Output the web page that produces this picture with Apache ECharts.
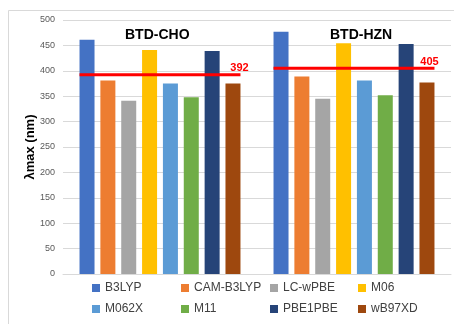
<!DOCTYPE html>
<html>
<head>
<meta charset="utf-8">
<script src="https://cdn.jsdelivr.net/npm/echarts@6/dist/echarts.min.js"></script>
<style>
  html, body { margin: 0; padding: 0; background: #fff; }
  #chart { width: 454px; height: 324px; }
</style>
</head>
<body>
<div id="chart"></div>
<script>
// Absorption maxima (nm) for two dyes computed with eight functionals
const categories = ['BTD-CHO', 'BTD-HZN'];
const functionals = ['B3LYP', 'CAM-B3LYP', 'LC-wPBE', 'M06', 'M062X', 'M11', 'PBE1PBE', 'wB97XD'];
const B3LYP = [461, 477];
const CAM_B3LYP = [381, 389];
const LC_wPBE = [341, 345];
const M06 = [441, 454];
const M062X = [375, 381];
const M11 = [348, 352];
const PBE1PBE = [439, 453];
const wB97XD = [375, 377];
// Experimental reference value for each dye
const experimental = [392, 405];
const yTicks = [0, 50, 100, 150, 200, 250, 300, 350, 400, 450, 500];

const seriesValues = [B3LYP, CAM_B3LYP, LC_wPBE, M06, M062X, M11, PBE1PBE, wB97XD];
const colors = ['#4472C4', '#ED7D31', '#A5A5A5', '#FFC000', '#5B9BD5', '#70AD47', '#264478', '#9E480E'];

const FONT = '"Liberation Sans", Arial, sans-serif';
const gridLeft = 63, gridRight = 3, gridTop = 20, gridBottom = 50;
const W = 454;
const plotWidth = W - gridLeft - gridRight;
const barWidth = 15;
const barGapRatio = 0.39;

// Horizontal extent of one cluster of bars, in category units
const catWidth = plotWidth / categories.length;
const groupWidth = functionals.length * barWidth + (functionals.length - 1) * barWidth * barGapRatio;
const halfSpan = groupWidth / 2 / catWidth;

const chart = echarts.init(document.getElementById('chart'), null, { renderer: 'canvas' });

const barSeries = functionals.map((name, i) => ({
  name: name,
  type: 'bar',
  xAxisIndex: 0,
  yAxisIndex: 0,
  data: seriesValues[i],
  barWidth: barWidth,
  barGap: (barGapRatio * 100) + '%',
  itemStyle: { color: colors[i] },
  emphasis: { disabled: true }
}));

const refSeries = categories.map((c, k) => ({
  name: 'ref-' + c,
  type: 'line',
  xAxisIndex: 1,
  yAxisIndex: 0,
  symbol: 'circle',
  symbolSize: 0,
  silent: true,
  z: 5,
  lineStyle: { color: '#FF0000', width: 3 },
  itemStyle: { color: '#FF0000' },
  data: [
    { value: [k + 0.5 - halfSpan, experimental[k]], label: { show: false } },
    {
      value: [k + 0.5 + halfSpan, experimental[k]],
      label: {
        show: true,
        position: 'top',
        distance: 1,
        offset: [k === 0 ? -1 : -5, 0],
        formatter: String(experimental[k]),
        color: '#FF0000',
        fontWeight: 'bold',
        fontSize: 11,
        fontFamily: FONT
      }
    }
  ]
}));

// Legend laid out as a 4 x 2 table: one legend component per entry
const legendCols = [92, 181, 270, 358];
const legendRows = [282, 303];
const legends = functionals.map((name, i) => ({
  left: legendCols[i % 4],
  top: legendRows[Math.floor(i / 4)],
  padding: 0,
  itemWidth: 8,
  itemHeight: 8,
  itemTextGap: 4,
  icon: 'rect',
  selectedMode: false,
  data: [name],
  textStyle: { color: '#404040', fontSize: 12, fontFamily: FONT }
}));

chart.setOption({
  animation: false,
  backgroundColor: '#fff',
  textStyle: { fontFamily: FONT },
  grid: { left: gridLeft, right: gridRight, top: gridTop, bottom: gridBottom },
  graphic: [
    {
      type: 'polyline',
      shape: { points: [[8.5, 330], [8.5, 10.5], [460, 10.5]] },
      style: { stroke: '#D9D9D9', lineWidth: 1, fill: null },
      silent: true
    }
  ],
  title: [
    { text: categories[0], left: 125, top: 28, padding: 0, textStyle: { fontSize: 14, fontWeight: 'bold', color: '#000', fontFamily: FONT } },
    { text: categories[1], left: 330, top: 28, padding: 0, textStyle: { fontSize: 14, fontWeight: 'bold', color: '#000', fontFamily: FONT } }
  ],
  legend: legends,
  xAxis: [
    {
      type: 'category',
      data: categories,
      axisLine: { show: true, lineStyle: { color: '#D9D9D9' } },
      axisTick: { show: false },
      axisLabel: { show: false }
    },
    {
      type: 'value',
      min: 0,
      max: categories.length,
      show: false
    }
  ],
  yAxis: {
    type: 'value',
    min: yTicks[0],
    max: yTicks[yTicks.length - 1],
    interval: yTicks[1] - yTicks[0],
    name: 'λmax (nm)',
    nameLocation: 'middle',
    nameGap: 26,
    nameMoveOverlap: false,
    nameTextStyle: { fontSize: 13, fontWeight: 'bold', color: '#000', fontFamily: FONT },
    axisLine: { show: false },
    axisTick: { show: false },
    axisLabel: { fontSize: 9, color: '#595959', margin: 8, fontFamily: FONT },
    splitLine: { lineStyle: { color: '#D9D9D9', width: 1 } }
  },
  series: barSeries.concat(refSeries)
});
</script>
</body>
</html>
